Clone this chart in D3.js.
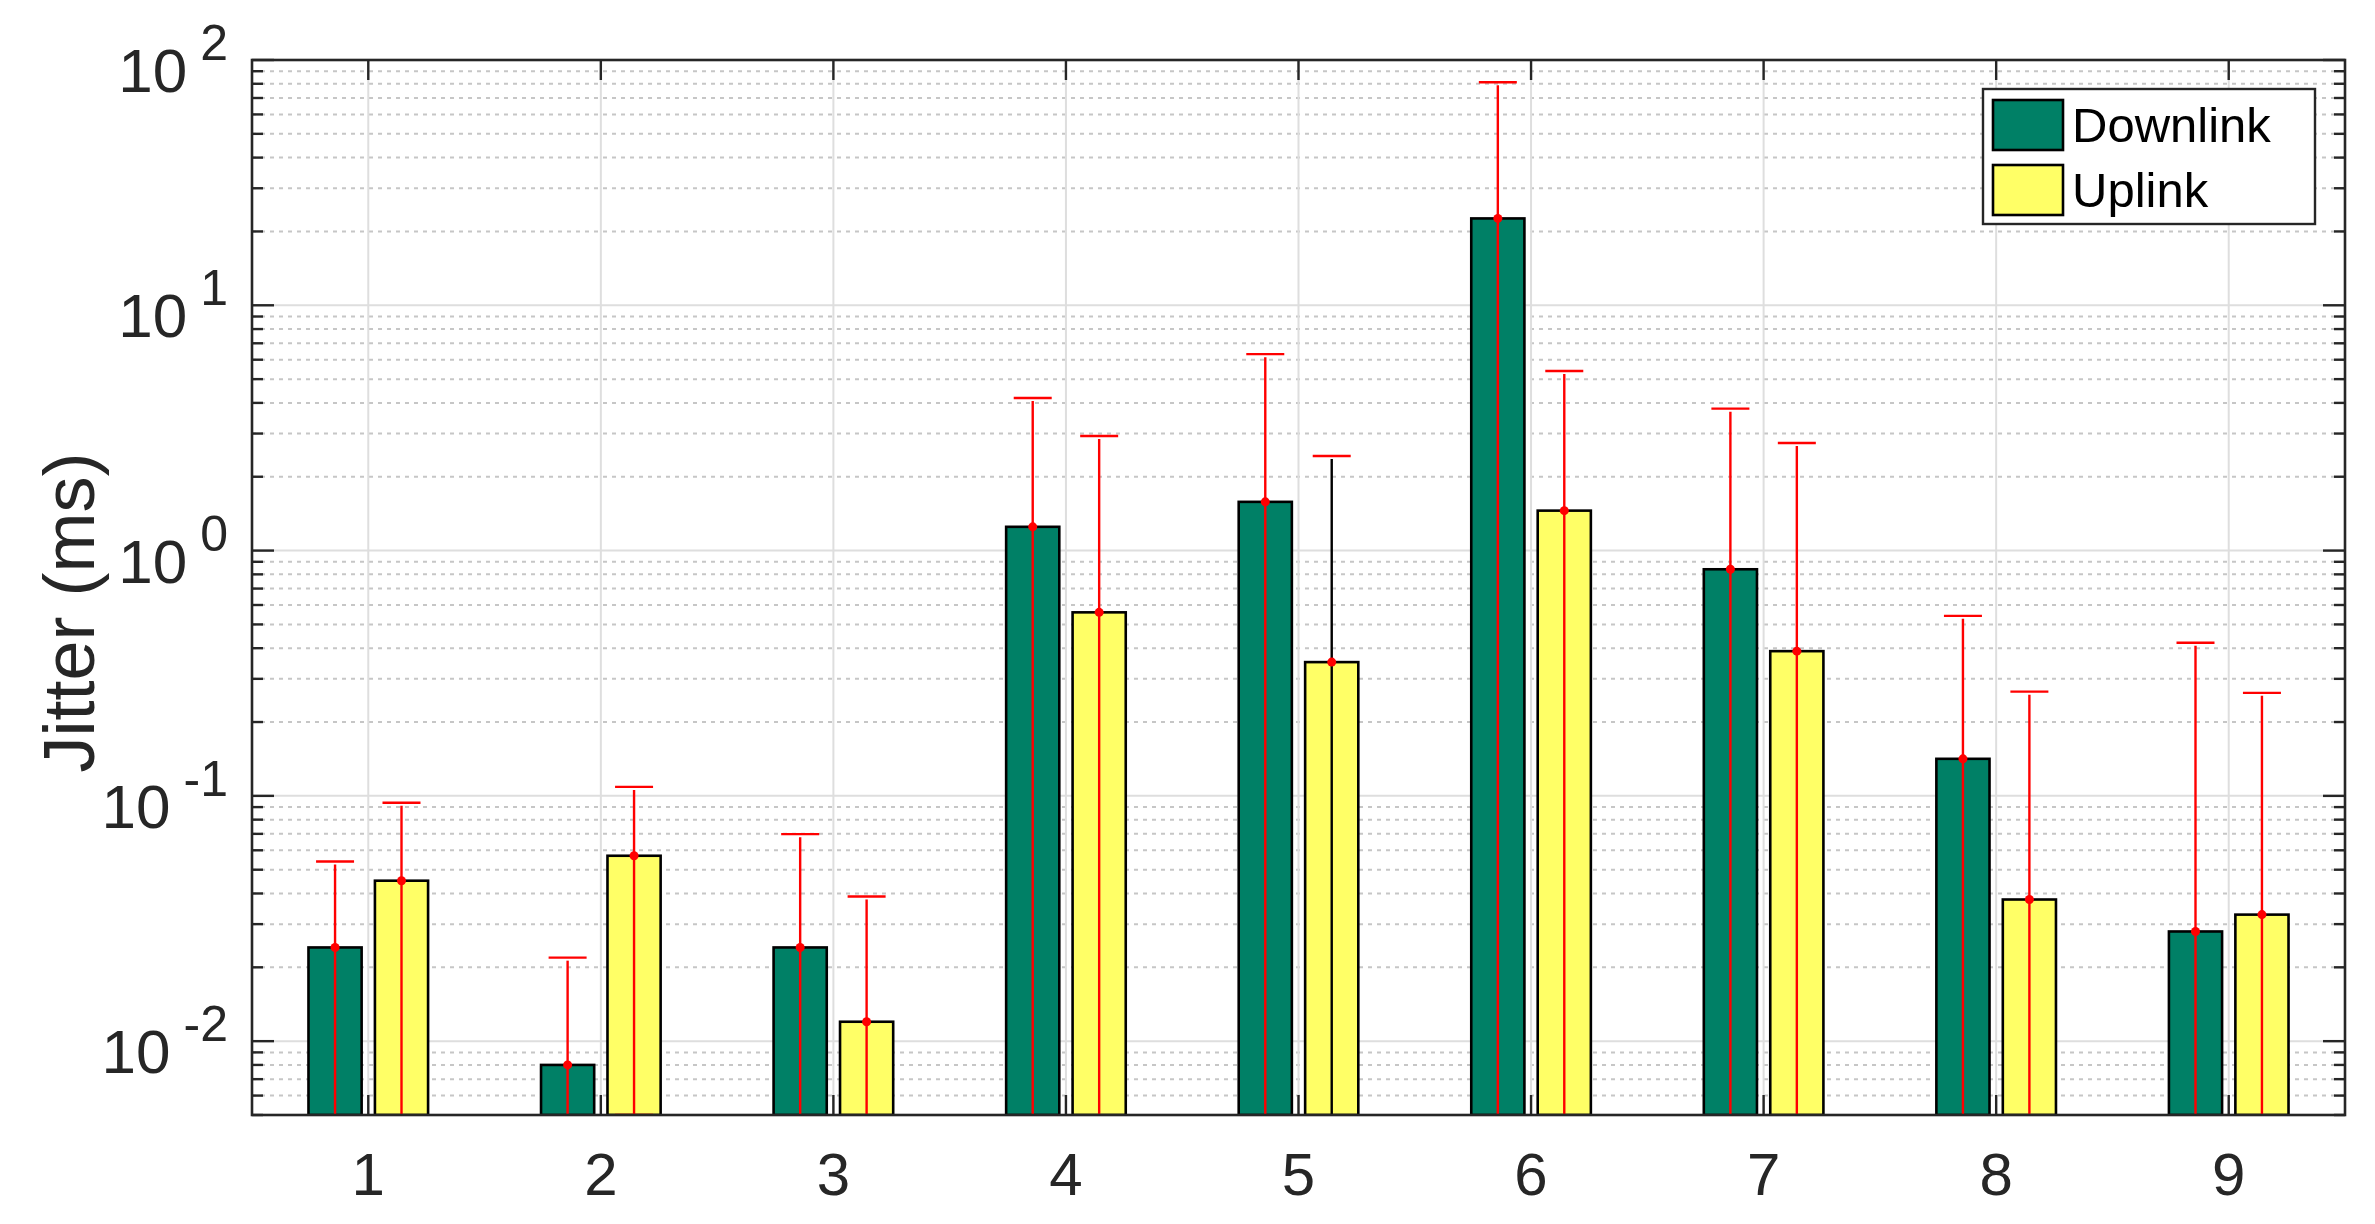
<!DOCTYPE html>
<html>
<head>
<meta charset="utf-8">
<script src="https://cdn.jsdelivr.net/npm/d3@7"></script>
<style>
  body { margin: 0; background: #fff; }
  text { font-family: "Liberation Sans", Arial, Helvetica, sans-serif; }
</style>
</head>
<body>
<svg id="chart"></svg>
<script>
const WIDTH = 2375, HEIGHT = 1224;

// datos
const categories = ['1', '2', '3', '4', '5', '6', '7', '8', '9'];
const seriesNames = ['Downlink', 'Uplink'];
const downlink = [0.0241, 0.0080, 0.0241, 1.25, 1.58, 22.6, 0.839, 0.1416, 0.0280];
const uplink = [0.0451, 0.0570, 0.0120, 0.56, 0.351, 1.455, 0.389, 0.0378, 0.0328];
const downlinkHigh = [0.054, 0.0219, 0.0698, 4.19, 6.32, 81.1, 3.79, 0.542, 0.421];
const uplinkHigh = [0.0937, 0.1088, 0.0389, 2.93, 2.43, 5.40, 2.745, 0.266, 0.263];
// null = el limite inferior queda fuera del eje
const downlinkLow = [null, null, null, null, null, null, null, null, null];
const uplinkLow = [null, 0.005, null, null, null, null, null, null, null];
const yTickExps = [-2, -1, 0, 1, 2];

const colors = ['#008066', '#ffff66'];
const axisColor = '#262626';

const margin = { top: 60, bottom: 109, left: 252, right: 30 };
const x0 = margin.left, x1 = WIDTH - margin.right;
const yTop = margin.top, yBot = HEIGHT - margin.bottom;

const svg = d3.select('svg#chart')
    .attr('width', WIDTH)
    .attr('height', HEIGHT);

const x = d3.scaleLinear().domain([0.5, 9.5]).range([x0, x1]);
const y = d3.scaleLog().domain([0.005, 100]).range([yBot, yTop]);

const allTicks = y.ticks();
const isMajor = (v) => Math.abs(Math.log10(v) - Math.round(Math.log10(v))) < 1e-9;
const minorTicks = allTicks.filter(v => !isMajor(v));
const majorTicks = yTickExps.map(e => Math.pow(10, e));

// clip
svg.append('clipPath').attr('id', 'plotClip')
    .append('rect')
    .attr('x', x0).attr('y', yTop)
    .attr('width', x1 - x0).attr('height', yBot - yTop);

const grid = svg.append('g').attr('id', 'grid');

grid.selectAll('line.minor')
    .data(minorTicks)
    .join('line')
    .attr('class', 'minor')
    .attr('x1', x0).attr('x2', x1)
    .attr('y1', d => y(d)).attr('y2', d => y(d))
    .attr('stroke', '#c6c6c6')
    .attr('stroke-width', 2)
    .attr('stroke-dasharray', '4,5');

grid.selectAll('line.major')
    .data(majorTicks)
    .join('line')
    .attr('class', 'major')
    .attr('x1', x0).attr('x2', x1)
    .attr('y1', d => y(d)).attr('y2', d => y(d))
    .attr('stroke', '#dedede')
    .attr('stroke-width', 2);

grid.selectAll('line.vgrid')
    .data(categories)
    .join('line')
    .attr('class', 'vgrid')
    .attr('x1', (d, i) => x(i + 1)).attr('x2', (d, i) => x(i + 1))
    .attr('y1', yTop).attr('y2', yBot)
    .attr('stroke', '#dedede')
    .attr('stroke-width', 2);

// barras agrupadas (estilo MATLAB: 2 series)
const groupWidth = 2 / 3.5;
const offsets = [-groupWidth / 4, groupWidth / 4];
const barW = groupWidth / 2 * 0.8;

const series = [
    { name: seriesNames[0], values: downlink, high: downlinkHigh, low: downlinkLow },
    { name: seriesNames[1], values: uplink, high: uplinkHigh, low: uplinkLow },
];

const plot = svg.append('g').attr('clip-path', 'url(#plotClip)');
const axes = svg.append('g').attr('id', 'axes');

series.forEach((s, si) => {
    plot.selectAll('rect.bar-' + si)
        .data(s.values)
        .join('rect')
        .attr('class', 'bar-' + si)
        .attr('x', (d, i) => x(i + 1 + offsets[si] - barW / 2))
        .attr('width', x(1 + barW) - x(1))
        .attr('y', d => y(d))
        .attr('height', d => yBot - y(d))
        .attr('fill', colors[si])
        .attr('stroke', '#000')
        .attr('stroke-width', 2.6);
});

const capW = 38;
series.forEach((s, si) => {
    const eg = plot.append('g').attr('class', 'err-' + si);
    s.values.forEach((v, i) => {
        const cx = x(i + 1 + offsets[si]);
        const lo = s.low[i] == null ? yBot + 6 : y(s.low[i]);
        // en la barra 5 del uplink el tallo sale negro
        const stem = (si === 1 && i === 4) ? '#000' : '#ff0000';
        eg.append('line')
            .attr('x1', cx).attr('x2', cx)
            .attr('y1', lo).attr('y2', y(s.high[i]) + 3)
            .attr('stroke', stem).attr('stroke-width', 2.4);
        eg.append('line')
            .attr('x1', cx - capW / 2).attr('x2', cx + capW / 2)
            .attr('y1', y(s.high[i])).attr('y2', y(s.high[i]))
            .attr('stroke', '#ff0000').attr('stroke-width', 2.4);
        if (s.low[i] != null) {
            eg.append('line')
                .attr('x1', cx - capW / 2).attr('x2', cx + capW / 2)
                .attr('y1', y(s.low[i])).attr('y2', y(s.low[i]))
                .attr('stroke', '#ff0000').attr('stroke-width', 2.4);
        }
        eg.append('circle')
            .attr('cx', cx).attr('cy', y(v))
            .attr('r', 4.5)
            .attr('fill', '#ff0000');
    });
});

// caja de ejes
axes.append('rect')
    .attr('x', x0).attr('y', yTop)
    .attr('width', x1 - x0).attr('height', yBot - yTop)
    .attr('fill', 'none')
    .attr('stroke', axisColor)
    .attr('stroke-width', 2.6);

categories.forEach((c, i) => {
    const cx = x(i + 1);
    axes.append('line').attr('x1', cx).attr('x2', cx)
        .attr('y1', yBot).attr('y2', yBot - 20)
        .attr('stroke', axisColor).attr('stroke-width', 2.4);
    axes.append('line').attr('x1', cx).attr('x2', cx)
        .attr('y1', yTop).attr('y2', yTop + 20)
        .attr('stroke', axisColor).attr('stroke-width', 2.4);
    axes.append('text')
        .attr('x', cx).attr('y', yBot + 80)
        .attr('text-anchor', 'middle')
        .attr('font-size', 60)
        .attr('fill', axisColor)
        .text(c);
});

// ticks de y, a ambos lados
[[x0, 1], [x1, -1]].forEach(([ax, dir]) => {
    minorTicks.forEach(v => {
        axes.append('line').attr('x1', ax).attr('x2', ax + dir * 11)
            .attr('y1', y(v)).attr('y2', y(v))
            .attr('stroke', axisColor).attr('stroke-width', 2.4);
    });
    majorTicks.forEach(v => {
        axes.append('line').attr('x1', ax).attr('x2', ax + dir * 22)
            .attr('y1', y(v)).attr('y2', y(v))
            .attr('stroke', axisColor).attr('stroke-width', 2.4);
    });
});

yTickExps.forEach(e => {
    const t = axes.append('text')
        .attr('x', x0 - 24)
        .attr('y', y(Math.pow(10, e)) + 32)
        .attr('text-anchor', 'end')
        .attr('font-size', 62)
        .attr('fill', axisColor);
    t.append('tspan').text('10');
    t.append('tspan')
        .attr('dx', 13)
        .attr('dy', -32)
        .attr('font-size', 50)
        .text(String(e));
});

svg.append('text')
    .attr('transform', `translate(94, ${(yTop + yBot) / 2 + 25}) rotate(-90)`)
    .attr('text-anchor', 'middle')
    .attr('font-size', 72)
    .attr('fill', axisColor)
    .text('Jitter (ms)');

// leyenda
const legend = svg.append('g').attr('id', 'legend');
legend.append('rect')
    .attr('x', 1983).attr('y', 89)
    .attr('width', 332).attr('height', 135)
    .attr('fill', '#fff')
    .attr('stroke', axisColor)
    .attr('stroke-width', 2.4);

seriesNames.forEach((n, i) => {
    legend.append('rect')
        .attr('x', 1993).attr('y', 100 + i * 65)
        .attr('width', 70).attr('height', 50)
        .attr('fill', colors[i])
        .attr('stroke', '#000')
        .attr('stroke-width', 2.6);
    legend.append('text')
        .attr('x', 2072).attr('y', 142 + i * 65)
        .attr('font-size', 49)
        .attr('fill', '#000')
        .text(n);
});
</script>
</body>
</html>
